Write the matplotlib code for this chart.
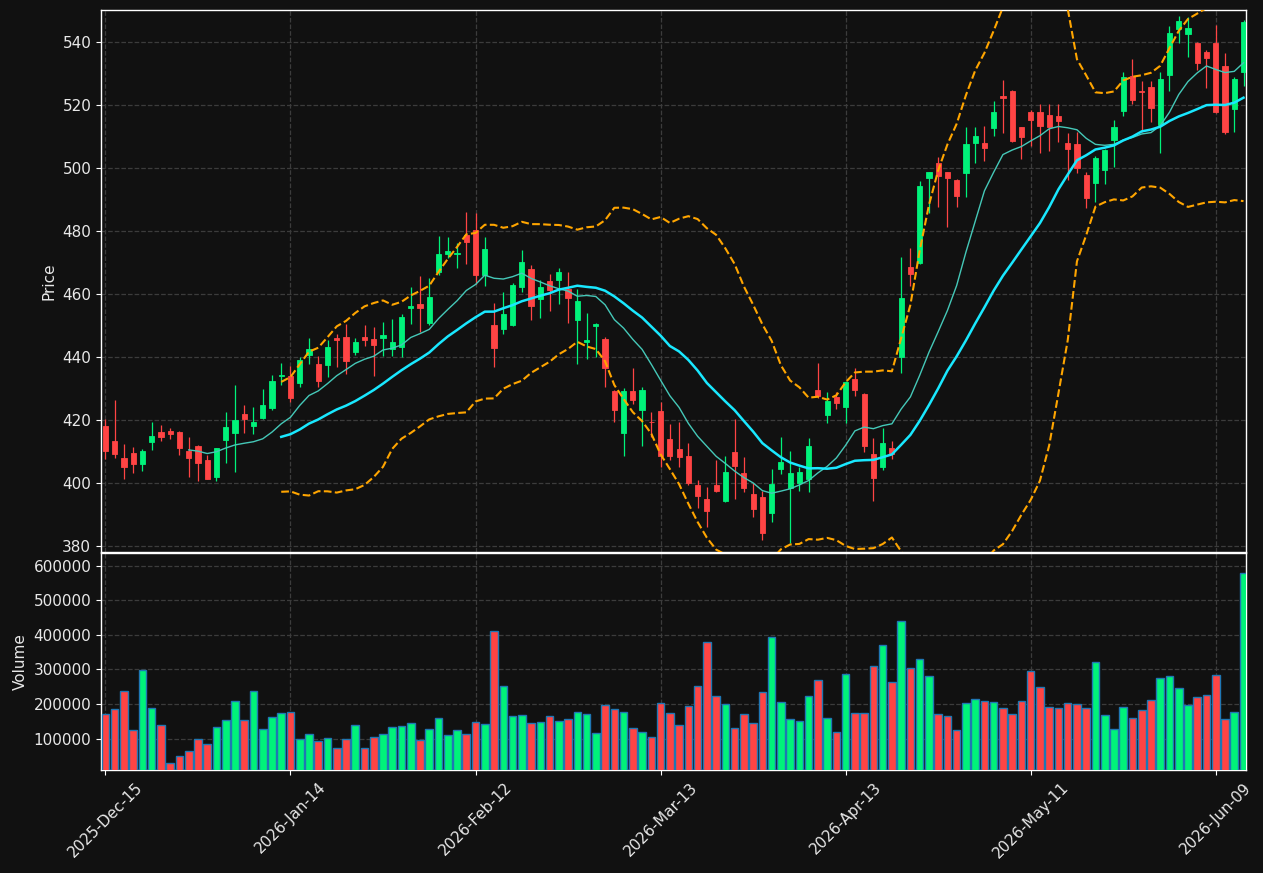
import matplotlib
matplotlib.use("Agg")
import matplotlib.pyplot as plt
import numpy as np
import pandas as pd

# ---- data ----
opens = [418.1, 413.4, 408.0, 409.6, 406.2, 413.1, 416.3, 416.6, 416.3, 410.3,
         411.8, 407.4, 402.1, 413.8, 416.1, 422.0, 418.3, 420.8, 424.0, 434.0,
         434.1, 431.9, 440.7, 437.9, 437.6, 446.2, 446.5, 441.7, 446.4, 445.7,
         446.2, 442.7, 443.4, 455.6, 457.0, 451.0, 467.1, 472.9, 472.7, 478.9,
         480.4, 466.1, 450.1, 449.0, 450.3, 462.3, 468.0, 458.5, 464.2, 464.6,
         461.7, 451.9, 444.9, 450.0, 445.8, 429.3, 416.1, 429.3, 423.1, 419.6,
         422.9, 414.1, 410.9, 408.8, 399.5, 395.0, 399.5, 394.2, 409.9, 403.3,
         396.6, 395.7, 390.7, 404.4, 398.4, 400.0, 401.3, 429.6, 421.7, 427.3,
         424.3, 433.1, 428.3, 409.3, 405.0, 411.2, 440.2, 468.8, 470.0, 497.0,
         501.7, 498.8, 496.3, 498.6, 508.2, 508.0, 512.9, 523.0, 524.6, 513.1,
         517.9, 517.9, 516.9, 516.6, 508.2, 507.7, 497.9, 495.2, 499.5, 509.0,
         518.3, 529.2, 524.7, 525.7, 513.8, 529.6, 544.2, 542.6, 539.7, 537.1,
         539.7, 532.5, 519.0, 530.5]
highs = [420.3, 426.4, 412.5, 411.4, 410.9, 419.6, 418.4, 417.5, 416.6, 414.6,
         412.0, 408.9, 411.3, 422.6, 431.2, 424.9, 424.1, 429.9, 434.4, 438.1,
         437.3, 440.2, 446.0, 440.4, 445.5, 447.3, 450.5, 446.0, 450.1, 449.5,
         451.1, 452.2, 453.8, 462.2, 465.7, 465.1, 478.5, 478.1, 476.2, 486.2,
         485.7, 478.1, 457.1, 460.6, 463.5, 474.0, 469.2, 464.4, 466.4, 468.3,
         467.0, 461.8, 454.0, 451.0, 446.6, 429.5, 430.2, 436.5, 430.5, 422.5,
         425.7, 418.7, 419.6, 412.7, 401.0, 398.7, 407.4, 408.7, 420.3, 408.3,
         400.0, 397.4, 404.5, 414.6, 410.2, 405.1, 414.3, 438.1, 428.9, 429.1,
         432.6, 436.5, 428.5, 414.3, 417.5, 413.5, 471.7, 474.6, 496.0, 499.0,
         503.5, 499.0, 496.5, 513.0, 513.2, 513.6, 521.5, 528.0, 524.8, 513.3,
         518.7, 520.4, 520.6, 520.6, 511.1, 511.5, 498.7, 504.0, 506.0, 515.3,
         530.7, 534.9, 527.7, 527.7, 530.7, 545.2, 548.3, 548.1, 540.0, 537.5,
         545.6, 536.5, 529.0, 547.1]
lows = [407.6, 407.9, 401.3, 403.2, 403.8, 410.5, 413.4, 414.0, 409.1, 401.9,
        400.6, 401.3, 400.6, 406.3, 403.7, 415.9, 415.6, 420.5, 423.3, 431.2,
        425.9, 430.5, 437.8, 430.5, 433.7, 436.8, 434.6, 440.7, 443.7, 434.1,
        440.5, 440.5, 440.2, 450.5, 447.9, 450.3, 466.1, 471.4, 468.3, 469.6,
        463.2, 462.7, 437.0, 447.3, 450.0, 460.6, 452.0, 452.6, 454.8, 456.8,
        451.0, 437.8, 439.4, 440.2, 430.5, 419.4, 408.7, 425.1, 411.9, 414.6,
        405.3, 407.5, 405.3, 399.5, 392.1, 386.2, 397.1, 394.0, 394.9, 397.1,
        389.4, 381.9, 387.7, 403.0, 381.0, 397.6, 397.1, 427.0, 419.0, 423.5,
        419.2, 427.8, 409.8, 394.5, 404.2, 407.6, 434.9, 462.6, 469.5, 485.7,
        487.8, 481.3, 487.6, 491.0, 501.8, 502.3, 510.3, 511.3, 508.3, 502.9,
        507.0, 504.8, 505.6, 508.3, 496.3, 498.4, 487.4, 489.3, 495.0, 500.5,
        516.6, 520.4, 511.6, 514.8, 504.8, 524.6, 539.7, 535.3, 531.2, 525.4,
        517.5, 510.8, 511.6, 526.2]
closes = [410.3, 409.2, 405.3, 406.2, 410.3, 415.0, 414.7, 415.6, 411.2, 408.0,
          406.5, 401.5, 411.1, 417.9, 420.1, 420.4, 419.5, 424.9, 432.5, 434.4,
          427.2, 439.1, 442.6, 432.5, 443.3, 445.6, 438.8, 444.7, 445.6, 444.0,
          447.1, 444.8, 452.8, 456.3, 455.5, 459.2, 472.9, 473.7, 473.2, 476.7,
          466.2, 474.3, 443.0, 453.9, 463.0, 470.3, 456.3, 462.3, 461.3, 467.1,
          458.9, 457.8, 445.5, 450.6, 436.7, 423.1, 429.4, 426.5, 429.6, 419.3,
          408.8, 408.5, 408.2, 400.0, 395.8, 391.3, 397.6, 403.6, 405.6, 398.6,
          391.8, 384.1, 399.8, 406.7, 403.2, 403.5, 411.8, 427.7, 426.2, 425.6,
          432.1, 429.6, 411.8, 401.8, 412.8, 409.3, 458.7, 466.4, 494.4, 498.8,
          497.6, 497.0, 491.3, 507.7, 510.3, 506.5, 517.9, 522.4, 508.8, 510.0,
          515.4, 513.6, 513.2, 515.0, 506.2, 500.2, 490.7, 503.2, 505.8, 513.2,
          529.0, 521.6, 524.4, 519.3, 528.3, 542.9, 546.8, 544.5, 533.4, 535.1,
          518.0, 511.6, 528.3, 546.6]
volumes = [169800, 184300, 236600, 123300, 297700, 187200, 137800, 30200, 50600, 65100,
           98000, 85500, 132000, 153200, 207600, 153200, 236600, 127000, 161900, 173500,
           175600, 100000, 114500, 94200, 102900, 73800, 100000, 137800, 73800, 105800,
           114500, 132000, 134900, 143600, 97100, 127000, 158100, 111600, 123300, 114500,
           146500, 140700, 411000, 251200, 164000, 166900, 143600, 146500, 164000, 149400,
           155200, 175600, 169800, 117400, 195900, 184300, 175600, 129100, 120300, 105800,
           201700, 172700, 137800, 193000, 251200, 379100, 222100, 198800, 129100, 169800,
           143600, 233700, 393600, 204700, 155200, 149400, 222100, 268600, 158100, 120300,
           286000, 172700, 172700, 309300, 370300, 262800, 440100, 303500, 329700, 280200,
           169800, 164000, 123300, 201700, 213400, 207600, 204700, 187200, 169800, 207600,
           294800, 248300, 190100, 187200, 201700, 198800, 187200, 321000, 166900, 126200,
           190100, 158100, 181400, 210500, 274400, 280200, 245300, 195900, 219200, 225000,
           283100, 155200, 175600, 578500]
tick_labels = ['2025-Dec-15', '2026-Jan-14', '2026-Feb-12', '2026-Mar-13',
               '2026-Apr-13', '2026-May-11', '2026-Jun-09']
tick_step = 20
mav_short, mav_long = 10, 20

# ---- styling ----
BG = '#111111'
UP = '#00f27a'
DOWN = '#ff4444'
TXT = '#e8e8e8'
GRID = '#3c3c3c'

o = np.array(opens); h = np.array(highs); l = np.array(lows); c = np.array(closes)
v = np.array(volumes, dtype=float)
n = len(c)
x = np.arange(n)
up = c >= o
cols = np.where(up, UP, DOWN)

cs = pd.Series(c)
ma_s = cs.rolling(mav_short).mean()
ma_l = cs.rolling(mav_long).mean()
sd = cs.rolling(mav_long).std()
bb_up = ma_l + 2 * sd
bb_lo = ma_l - 2 * sd

fig = plt.figure(figsize=(12.63, 8.73), dpi=100, facecolor=BG)
L, W = 101 / 1263, 1145 / 1263
ax = fig.add_axes([L, 1 - 552 / 873, W, (552 - 10) / 873])
axv = fig.add_axes([L, 1 - 770 / 873, W, (770 - 553) / 873], sharex=ax)

for a in (ax, axv):
    a.set_facecolor(BG)
    for s in a.spines.values():
        s.set_color('white')
        s.set_linewidth(1.0)
    a.tick_params(colors=TXT, labelsize=11, color='white')
    a.grid(True, color=GRID, linestyle='--', linewidth=0.9)
    a.set_axisbelow(True)

# candles
ax.vlines(x, l, h, colors=cols, linewidth=0.9, zorder=2)
ax.bar(x, np.maximum(np.abs(c - o), 0.05), bottom=np.minimum(o, c), width=0.56,
       color=cols, edgecolor=cols, linewidth=0.6, zorder=3)

# moving averages & bands
ax.plot(x, ma_s, color='#45c8b8', linewidth=1.0, zorder=4)
ax.plot(x, ma_l, color='#19e8ff', linewidth=1.8, zorder=4)
ax.plot(x, bb_up, color='#ffa500', linewidth=1.5, linestyle='--', zorder=4)
ax.plot(x, bb_lo, color='#ffa500', linewidth=1.5, linestyle='--', zorder=4)

rng = h.max() - l.min()
ax.set_ylim(l.min() - 0.017 * rng, h.max() + 0.012 * rng)
ax.set_xlim(-0.48, n - 1 + 0.27)
ax.set_yticks(np.arange(380, 541, 20))
ax.set_ylabel('Price', color=TXT, fontsize=11)
plt.setp(ax.get_xticklabels(), visible=False)

# volume
axv.bar(x, v, width=0.82, color=cols, edgecolor='#1f77b4', linewidth=1.0, zorder=3)
axv.set_ylim(0.3 * v.min(), 1.1 * v.max())
axv.set_yticks(np.arange(100000, 600001, 100000))
axv.yaxis.set_major_formatter(matplotlib.ticker.FuncFormatter(lambda val, p: f'{int(val)}'))
axv.set_ylabel('Volume', color=TXT, fontsize=11)

ticks = np.arange(0, n, tick_step)[:len(tick_labels)]
axv.set_xticks(ticks)
axv.set_xticklabels(tick_labels, rotation=45, fontsize=11, color=TXT)

fig.savefig('out.png', dpi=100, facecolor=BG)
